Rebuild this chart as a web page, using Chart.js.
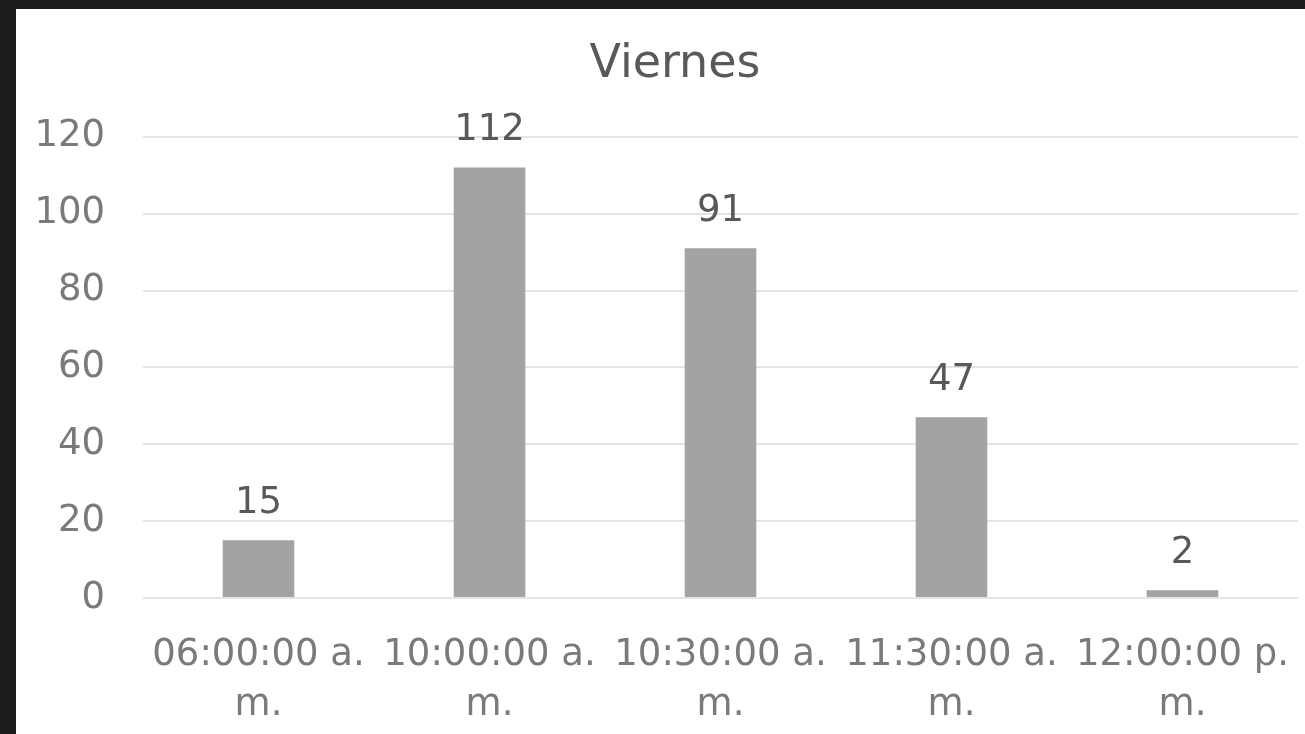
<!DOCTYPE html>
<html>
<head>
<meta charset="utf-8">
<script src="https://cdn.jsdelivr.net/npm/chart.js@4/dist/chart.umd.min.js"></script>
<style>
  html, body { margin: 0; padding: 0; background: #1c1c1c; width: 1305px; height: 734px; overflow: hidden; }
  #frame { position: absolute; left: 16px; top: 9px; width: 1289px; height: 725px; background: #ffffff; }
  canvas { display: block; }
</style>
</head>
<body>
<div id="frame"><canvas id="c" width="1289" height="725"></canvas></div>
<script>
const chartTitle = "Viernes";
const categories = [
  ["06:00:00 a.", "m."],
  ["10:00:00 a.", "m."],
  ["10:30:00 a.", "m."],
  ["11:30:00 a.", "m."],
  ["12:00:00 p.", "m."]
];
const values = [15, 112, 91, 47, 2];
const yMin = 0;
const yMax = 120;
const yStep = 20;

const FONT = "'DejaVu Sans', sans-serif";

const dataLabels = {
  id: 'dataLabels',
  afterDatasetsDraw(chart) {
    const ctx = chart.ctx;
    const meta = chart.getDatasetMeta(0);
    const ds = chart.data.datasets[0];
    ctx.save();
    ctx.font = "37px " + FONT;
    ctx.fillStyle = "#595959";
    ctx.textAlign = "center";
    ctx.textBaseline = "middle";
    meta.data.forEach((bar, i) => {
      ctx.fillText(String(ds.data[i]), bar.x, bar.y - 37);
    });
    ctx.restore();
  }
};

const titleShift = {
  id: 'titleShift',
  afterLayout(chart) {
    const t = chart.titleBlock;
    if (t) { t.left += 18; t.right += 18; }
  }
};

new Chart(document.getElementById('c'), {
  type: 'bar',
  data: {
    labels: categories,
    datasets: [{
      data: values,
      backgroundColor: '#a3a3a3',
      borderWidth: 0,
      barPercentage: 0.31,
      categoryPercentage: 1.0
    }]
  },
  options: {
    responsive: false,
    animation: false,
    layout: { padding: { left: 0, right: 7, top: 0, bottom: 0 } },
    plugins: {
      legend: { display: false },
      tooltip: { enabled: false },
      title: {
        display: true,
        text: chartTitle,
        color: '#595959',
        font: { family: FONT, size: 46, weight: 'normal', lineHeight: 1.3 },
        padding: { top: 26, bottom: 42 }
      }
    },
    scales: {
      x: {
        grid: { display: false, drawTicks: false },
        border: { display: false },
        ticks: {
          color: '#7a7a7a',
          font: { family: FONT, size: 37, lineHeight: 1.35 },
          padding: 32,
          maxRotation: 0,
          minRotation: 0,
          autoSkip: false
        },
        afterFit(scale) {
          scale.height = 136;
          scale.paddingLeft = 0;
          scale.paddingRight = 0;
        }
      },
      y: {
        min: yMin,
        max: yMax,
        grid: { color: '#e4e4e4', lineWidth: 2, drawTicks: false },
        border: { display: false },
        ticks: {
          stepSize: yStep,
          color: '#7a7a7a',
          font: { family: FONT, size: 37 },
          padding: 38
        },
        afterFit(scale) {
          scale.width = 127;
          scale.paddingTop = 0;
          scale.paddingBottom = 0;
        }
      }
    }
  },
  plugins: [dataLabels, titleShift]
});
</script>
</body>
</html>
